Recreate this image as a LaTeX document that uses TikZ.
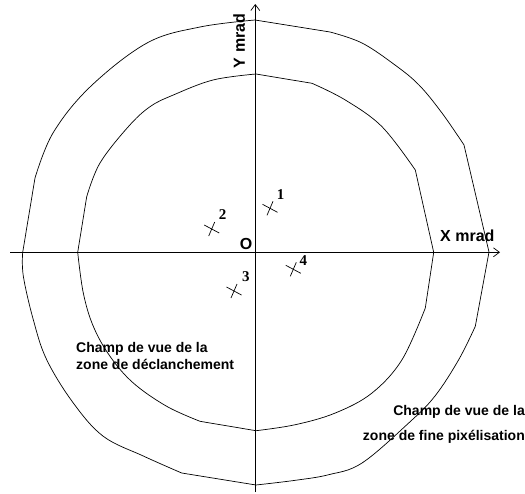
\documentclass[tikz,border=0pt]{standalone}
\usepackage{fontspec}
\setmainfont{Liberation Serif}
\setsansfont{Liberation Sans}
\usetikzlibrary{arrows.meta}
\tikzset{
  ln/.style={line width=0.7pt, black},
  axis/.style={ln, -{Straight Barb[length=6pt,width=9pt,line width=0.7pt]}},
  axlabel/.style={font=\sffamily\bfseries\fontsize{16}{18}\selectfont, inner sep=0pt},
  numlabel/.style={font=\rmfamily\bfseries\fontsize{15}{17}\selectfont, inner sep=0pt},
  zonetext/.style={font=\sffamily\bfseries\fontsize{14}{17}\selectfont, inner sep=0pt},
  xmark/.pic={\draw[ln] (-7.5,-4) -- (7.5,4); \draw[ln] (-3,7) -- (3,-7);}
}
\begin{document}
\begin{tikzpicture}[x=1pt,y=-1pt]
\useasboundingbox (0,0) rectangle (525,493);
% outer contour
\draw[ln] (22.7,252.3) -- (35,178)
  -- plot[smooth, tension=0.6] coordinates {(35,178) (53,133) (90,87) (147,43) (200,27) (255,20)}
  -- (330,32)
  -- plot[smooth, tension=0.6] coordinates {(330,32) (362,43) (395,65) (419,85) (442,113) (464,145)}
  -- (489,252) -- (475.3,326.3)
  -- plot[smooth, tension=0.6] coordinates {(475.3,326.3) (458.7,359.7) (435,396) (408.7,423) (362,463) (328.7,474.7) (295.3,480.3) (256,485)}
  -- (181.7,473)
  -- plot[smooth, tension=0.6] coordinates {(181.7,473) (143.3,456) (103.3,436.3) (73.3,403) (46.7,359.7) (33.3,319.7) (23.3,276) (22.7,252.3)}
  -- cycle;
% inner contour
\draw[ln] (77.7,252.3) -- (86.7,196.7)
  -- plot[smooth, tension=0.6] coordinates {(86.7,196.7) (100,163) (128.3,126.7) (150,106.7) (173.3,95) (213,80) (256,74)}
  -- (312,83.3)
  -- plot[smooth, tension=0.6] coordinates {(312,83.3) (345.3,100) (382,126.7) (415.3,170)}
  -- (433.7,252.3) -- (425.3,308)
  -- plot[smooth, tension=0.6] coordinates {(425.3,308) (402,359.7) (372,393) (335.3,413) (295.3,424.7) (256,430.7)}
  -- (200,421.3)
  -- plot[smooth, tension=0.6] coordinates {(200,421.3) (166.7,406.3) (133.3,383) (110,356.3) (93.3,326.3) (83.3,293) (77.7,252.3)}
  -- cycle;
% axes
\coordinate (xs) at (10,252.3);
\coordinate (xe) at (500,252.3);
\coordinate (ys) at (255.3,492);
\coordinate (ye) at (255.3,4);
\draw[axis] (xs) -- (xe);
\draw[axis] (ys) -- (ye);
\node[axlabel, anchor=west] (xl) at (440,236.2) {X mrad};
\node[axlabel, anchor=west, rotate=90] (yl) at (239.2,68.3) {Y mrad};
\node[axlabel] (o) at (246.2,243.7) {O};
% points
\pic at (270,208.3) {xmark};
\pic at (211.7,229) {xmark};
\pic at (234,291) {xmark};
\pic at (293.3,269.3) {xmark};
\node[numlabel] (n1) at (280.7,195) {1};
\node[numlabel] (n2) at (222.5,214.7) {2};
\node[numlabel] (n3) at (245.8,276.2) {3};
\node[numlabel] (n4) at (303.3,260.5) {4};
% zone texts
\node[zonetext, anchor=west, align=left] (z1) at (76,356) {Champ de vue de la\\ zone de déclanchement};
\node[zonetext, anchor=east, align=right, font=\sffamily\bfseries\fontsize{14}{25}\selectfont] (z2) at (525,424.5) {Champ de vue de la\\zone de fine pixélisation};
\end{tikzpicture}
\end{document}
